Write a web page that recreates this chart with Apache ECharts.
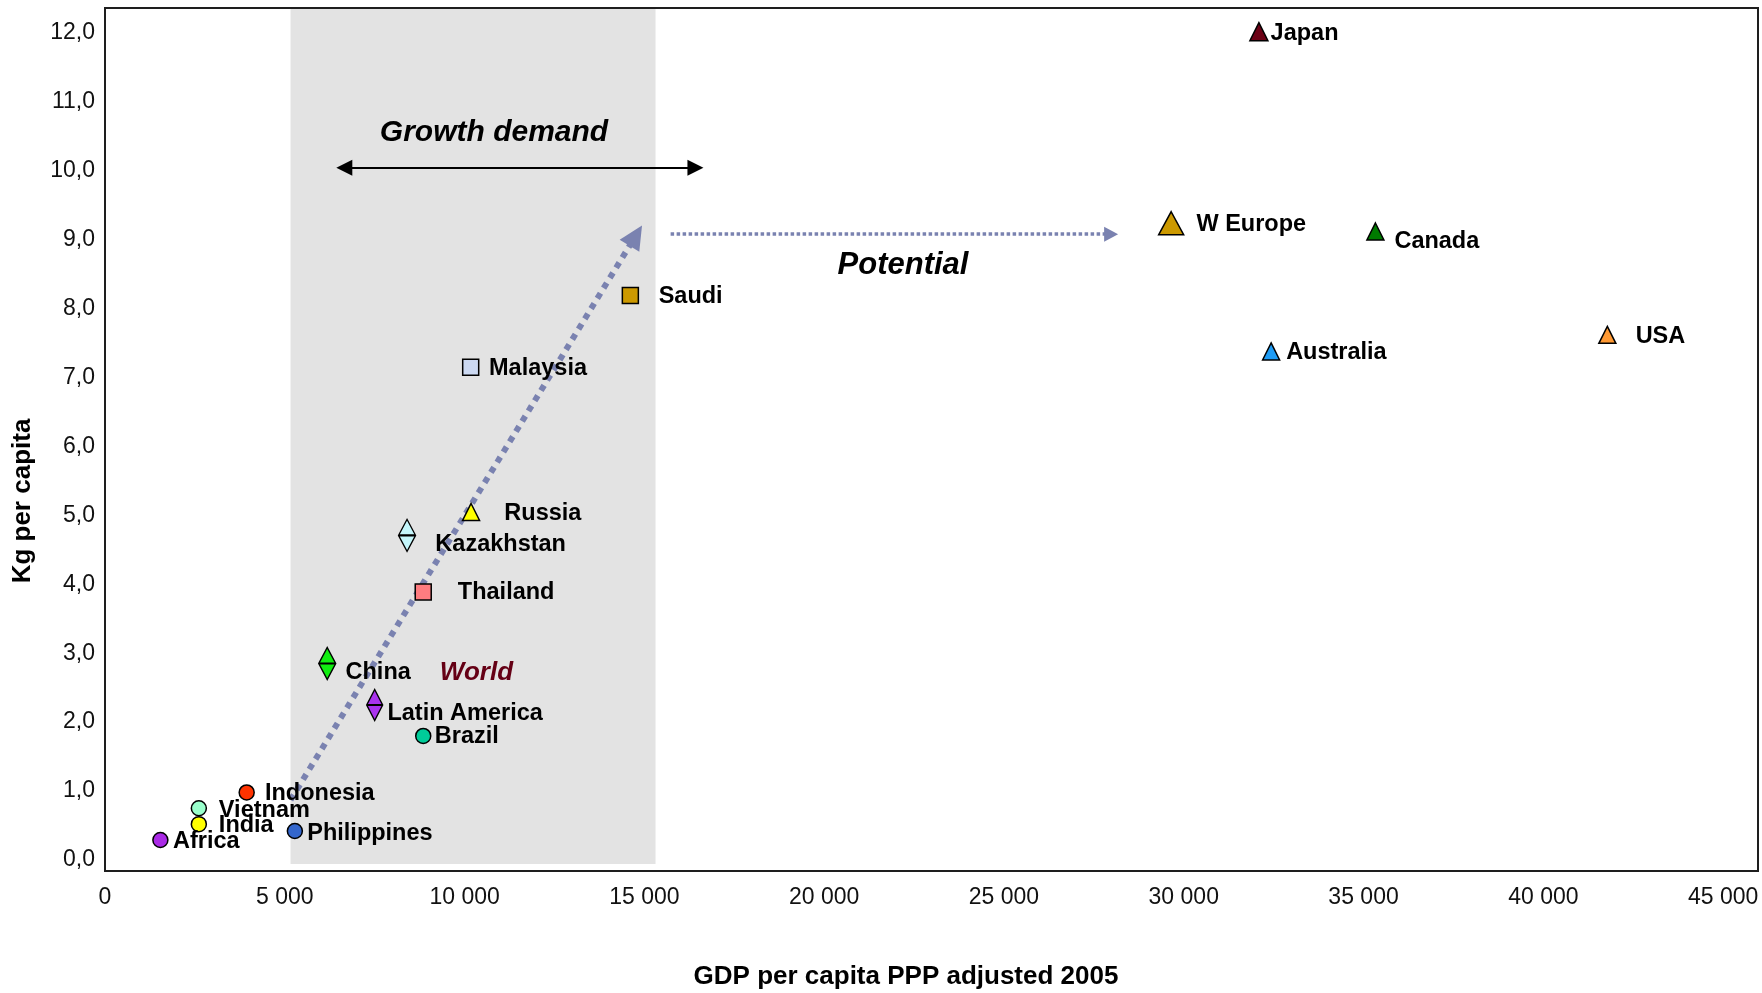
<!DOCTYPE html>
<html>
<head>
<meta charset="utf-8">
<script src="https://cdn.jsdelivr.net/npm/echarts@6/dist/echarts.min.js"></script>
<style>
  html, body { margin: 0; padding: 0; background: #ffffff; }
  #chart { width: 1762px; height: 993px; }
</style>
</head>
<body>
<div id="chart"></div>
<script>
// ---- values ----
const countries = ['Africa', 'India', 'Vietnam', 'Indonesia', 'Philippines', 'Brazil',
  'Latin America', 'China', 'Thailand', 'Kazakhstan', 'Russia', 'Malaysia', 'Saudi',
  'Japan', 'W Europe', 'Canada', 'Australia', 'USA'];
const gdpPerCapita = [1540, 2610, 2610, 3940, 5280, 8850,
  7500, 6180, 8850, 8400, 10180, 10170, 14610,
  32090, 29650, 35330, 32430, 41780];
const kgPerCapita = [0.29, 0.52, 0.75, 0.98, 0.42, 1.80,
  2.25, 2.85, 3.89, 4.71, 5.05, 7.15, 8.19,
  12.02, 9.24, 9.12, 7.38, 7.62];

const xTicks = [0, 5000, 10000, 15000, 20000, 25000, 30000, 35000, 40000, 45000];
const yTicks = [0, 1, 2, 3, 4, 5, 6, 7, 8, 9, 10, 11, 12];

// shaded GDP range and the annotation arrows, in axis units
const growthBand = [5160, 15310];
const growthArrow = [[6655, 10.045], [16420, 10.045]];
const trendArrow = [[5160, 0.87], [14760, 9.06]];
const potentialArrow = [[15730, 9.08], [27980, 9.08]];
const worldLabel = [10330, 2.72];

// ---- marker styling ----
const DIAMOND = 'path://M8,0 L16,16 L8,32 L0,16 Z M0,16 L16,16';
const markerShape = ['circle', 'circle', 'circle', 'circle', 'circle', 'circle',
  DIAMOND, DIAMOND, 'rect', DIAMOND, 'triangle', 'rect', 'rect',
  'triangle', 'triangle', 'triangle', 'triangle', 'triangle'];
const markerSize = [15, 15, 15, 15, 15, 15,
  [16, 31], [17, 32], 16, [17, 32], 17, 16, 16,
  18, [25, 23], 17, 17, 17];
const markerColor = ['#aa2ae6', '#ffff00', '#99ffcc', '#ff3300', '#3366cc', '#00cc99',
  '#aa33ee', '#11ee11', '#ff7c80', '#c4f6fb', '#ffff00', '#ccd9f2', '#cc9900',
  '#6b0014', '#cc9900', '#007a00', '#1e9cf5', '#ff9933'];
// label start offset from the marker centre [dx, dy]
const labelOffset = [[12.7, 1.7], [20, 1.7], [20, 2.4], [18.3, 1], [12.4, 2.3], [11.6, 0.7],
  [12.7, 8.3], [18.3, 9.4], [34.6, 1], [28.3, 9.3], [33.3, 1.3], [18.3, 1], [28.3, 1],
  [11.7, 1.6], [25.3, 1.7], [19, 10], [15, 1.6], [28.3, 1.7]];

const FONT = '"Liberation Sans", Arial, Helvetica, sans-serif';
const ARROW_BLUE = '#7a82b0';

const points = countries.map((name, i) => ({
  name: name,
  value: [gdpPerCapita[i], kgPerCapita[i]],
  symbol: markerShape[i],
  symbolSize: markerSize[i],
  itemStyle: { color: markerColor[i] },
  label: { offset: labelOffset[i] }
}));

function arrowSeries(pts, opts) {
  return {
    type: 'scatter',
    data: [],
    silent: true,
    z: 4,
    markLine: {
      silent: true,
      animation: false,
      symbol: opts.symbol,
      symbolSize: opts.symbolSize,
      label: { show: false },
      emphasis: { disabled: true },
      lineStyle: { color: opts.color, width: opts.width, type: opts.dash || 'solid', cap: 'butt', opacity: 1 },
      data: [[{ coord: pts[0] }, { coord: pts[1] }]]
    }
  };
}

const chart = echarts.init(document.getElementById('chart'), null, { renderer: 'canvas' });

chart.setOption({
  animation: false,
  backgroundColor: '#ffffff',
  grid: {
    left: 105, right: 4, top: 8, bottom: 122,
    show: true, borderColor: '#1e1e1e', borderWidth: 2,
    backgroundColor: 'transparent', z: 10
  },
  xAxis: {
    type: 'value',
    min: 0, max: 45970,
    axisLine: { show: false },
    axisTick: { show: false },
    splitLine: { show: false },
    axisLabel: {
      customValues: xTicks,
      margin: 15,
      fontSize: 23,
      fontFamily: FONT,
      color: '#111111',
      formatter: v => String(v).replace(/\B(?=(\d{3})+(?!\d))/g, ' ')
    }
  },
  yAxis: {
    type: 'value',
    min: -0.16, max: 12.363,
    axisLine: { show: false },
    axisTick: { show: false },
    splitLine: { show: false },
    axisLabel: {
      customValues: yTicks,
      margin: 10,
      fontSize: 23,
      fontFamily: FONT,
      color: '#111111',
      formatter: v => v.toFixed(1).replace('.', ',')
    }
  },
  series: [
    {
      type: 'scatter',
      data: [],
      silent: true,
      z: 1,
      markArea: {
        silent: true,
        itemStyle: { color: '#e3e3e3' },
        data: [[{ coord: [growthBand[0], -0.06] }, { coord: [growthBand[1], 12.363] }]]
      }
    },
    arrowSeries(trendArrow, { symbol: ['none', 'triangle'], symbolSize: [23, 24], color: ARROW_BLUE, width: 6, dash: [6, 6] }),
    arrowSeries(potentialArrow, { symbol: ['none', 'triangle'], symbolSize: [15, 14], color: ARROW_BLUE, width: 3.5, dash: [3.5, 2.5] }),
    arrowSeries(growthArrow, { symbol: ['triangle', 'triangle'], symbolSize: [16, 16], color: '#000000', width: 2 }),
    {
      type: 'scatter',
      name: 'countries',
      z: 5,
      data: points,
      itemStyle: { borderColor: '#000000', borderWidth: 1.5, opacity: 1 },
      label: {
        show: true,
        formatter: '{b}',
        position: 'inside',
        align: 'left',
        verticalAlign: 'middle',
        fontSize: 23.5,
        fontWeight: 'bold',
        fontFamily: FONT,
        color: '#000000'
      },
      emphasis: { disabled: true }
    },
    {
      type: 'scatter',
      name: 'world',
      z: 5,
      data: [{ name: 'World', value: worldLabel }],
      symbolSize: 0,
      itemStyle: { color: '#6b0018', opacity: 1 },
      label: {
        show: true,
        formatter: '{b}',
        position: 'inside',
        fontSize: 26,
        fontWeight: 'bold',
        fontStyle: 'italic',
        fontFamily: FONT,
        color: '#650015',
        opacity: 1
      },
      emphasis: { disabled: true }
    }
  ],
  graphic: [
    {
      type: 'text', x: 906, y: 977, z: 20,
      style: { text: 'GDP per capita PPP adjusted 2005', font: 'bold 26px ' + FONT, fill: '#000', align: 'center', verticalAlign: 'middle' }
    },
    {
      type: 'text', x: 22.5, y: 501, rotation: Math.PI / 2, z: 20,
      style: { text: 'Kg per capita', font: 'bold 26px ' + FONT, fill: '#000', align: 'center', verticalAlign: 'middle' }
    },
    {
      type: 'text', x: 494, y: 133, z: 20,
      style: { text: 'Growth demand', font: 'italic bold 30px ' + FONT, fill: '#000', align: 'center', verticalAlign: 'middle' }
    },
    {
      type: 'text', x: 903, y: 265, z: 20,
      style: { text: 'Potential', font: 'italic bold 31px ' + FONT, fill: '#000', align: 'center', verticalAlign: 'middle' }
    }
  ]
});
</script>
</body>
</html>
